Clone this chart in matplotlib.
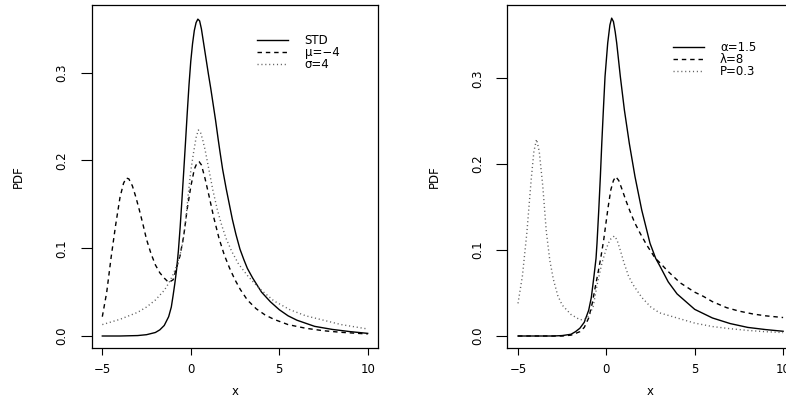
import matplotlib
matplotlib.use("Agg")
import matplotlib.pyplot as plt

plt.rcParams['font.family'] = ['DejaVu Sans']

# ---------------- left panel data ----------------
std_x = [-5, -4, -3, -2.5, -2, -1.75, -1.5, -1.25, -1.1, -1.0, -0.9, -0.8, -0.7, -0.6, -0.5,
         -0.4, -0.3, -0.2, -0.1, 0, 0.1, 0.2, 0.3, 0.4, 0.5, 0.6, 0.7, 0.8, 0.9, 1.0, 1.13,
         1.25, 1.4, 1.55, 1.65, 1.8, 2.0, 2.2, 2.35, 2.55, 2.78, 3.0, 3.2, 3.5, 4, 4.5, 5,
         5.5, 6, 7, 8, 9, 10]
std_y = [0, 0, 0.0005, 0.0015, 0.004, 0.007, 0.012, 0.022, 0.033, 0.046, 0.060, 0.076,
         0.097, 0.124, 0.155, 0.187, 0.220, 0.254, 0.286, 0.313, 0.333, 0.348, 0.357, 0.361,
         0.359, 0.350, 0.337, 0.324, 0.311, 0.298, 0.282, 0.266, 0.246, 0.224, 0.210, 0.190,
         0.168, 0.148, 0.133, 0.116, 0.099, 0.087, 0.077, 0.066, 0.050, 0.039, 0.030, 0.023,
         0.018, 0.011, 0.0075, 0.005, 0.003]

mu_x = [-5, -4.75, -4.5, -4.25, -4, -3.8, -3.65, -3.5, -3.3, -3.1, -2.9, -2.7, -2.5, -2.25,
        -2, -1.75, -1.5, -1.25, -1, -0.8, -0.6, -0.4, -0.2, 0, 0.2, 0.35, 0.47, 0.6, 0.8,
        1.05, 1.3, 1.6, 1.9, 2.2, 2.5, 2.8, 3.2, 3.7, 4.2, 4.7, 5.5, 6.5, 7.5, 8.5, 10]
mu_y = [0.022, 0.050, 0.090, 0.126, 0.158, 0.174, 0.180, 0.179, 0.171, 0.158, 0.143, 0.127,
        0.110, 0.094, 0.081, 0.072, 0.066, 0.061, 0.064, 0.078, 0.092, 0.114, 0.145, 0.170,
        0.190, 0.197, 0.1986, 0.195, 0.180, 0.158, 0.135, 0.111, 0.092, 0.077, 0.064, 0.053,
        0.041, 0.031, 0.024, 0.019, 0.013, 0.0088, 0.006, 0.0042, 0.0023]

sig_x = [-5, -4, -3, -2.5, -2, -1.5, -1.25, -1, -0.8, -0.6, -0.45, -0.3, -0.15, 0, 0.15,
         0.3, 0.43, 0.55, 0.68, 0.81, 1.05, 1.25, 1.5, 1.75, 2.0, 2.3, 2.7, 3.2, 3.6, 4,
         4.7, 5.6, 6.5, 7.5, 8.5, 10]
sig_y = [0.013, 0.019, 0.027, 0.033, 0.041, 0.052, 0.060, 0.070, 0.080, 0.093, 0.107, 0.128,
         0.160, 0.188, 0.208, 0.226, 0.2347, 0.232, 0.223, 0.212, 0.187, 0.166, 0.144,
         0.126, 0.111, 0.097, 0.082, 0.069, 0.060, 0.052, 0.040, 0.030, 0.023, 0.018,
         0.013, 0.008]

# ---------------- right panel data ----------------
alpha_x = [-5, -3, -2.5, -2, -1.75, -1.5, -1.25, -1.0, -0.85, -0.7, -0.585, -0.53, -0.43,
           -0.34, -0.26, -0.17, -0.076, 0.076, 0.2, 0.3, 0.4, 0.5, 0.585, 0.79, 1.02, 1.3,
           1.62, 2.0, 2.47, 2.79, 3.04, 3.5, 4, 5, 6, 7, 8, 9, 10]
alpha_y = [0, 0, 0.0005, 0.002, 0.005, 0.009, 0.016, 0.030, 0.045, 0.070, 0.0904, 0.1079,
           0.1467, 0.1855, 0.224, 0.263, 0.302, 0.341, 0.362, 0.370, 0.366, 0.354, 0.341,
           0.302, 0.263, 0.224, 0.1855, 0.1467, 0.1079, 0.0904, 0.081, 0.063, 0.049, 0.031,
           0.021, 0.0145, 0.010, 0.0075, 0.0055]

lam_x = [-5, -2.5, -2, -1.5, -1.25, -1, -0.8, -0.6, -0.45, -0.3, -0.15, 0, 0.1, 0.25, 0.4,
         0.53, 0.7, 0.9, 1.1, 1.34, 1.6, 1.9, 2.28, 2.75, 3.04, 3.5, 4.17, 5, 5.5, 6, 6.8,
         7.5, 8.3, 9, 10]
lam_y = [0, 0, 0.001, 0.005, 0.010, 0.021, 0.038, 0.060, 0.076, 0.093, 0.112, 0.135, 0.150,
         0.170, 0.181, 0.1855, 0.181, 0.170, 0.158, 0.145, 0.132, 0.120, 0.106, 0.091,
         0.085, 0.075, 0.062, 0.051, 0.046, 0.040, 0.033, 0.029, 0.0256, 0.0235, 0.0215]

p_x = [-5, -4.75, -4.5, -4.25, -4.1, -3.95, -3.8, -3.6, -3.4, -3.2, -3, -2.75, -2.5, -2,
       -1.5, -1.25, -1, -0.75, -0.5, -0.25, 0, 0.2, 0.45, 0.6, 0.8, 1.0, 1.25, 1.5, 2, 2.5,
       3, 4, 5, 6, 7, 8, 9, 10]
p_y = [0.038, 0.070, 0.120, 0.183, 0.215, 0.229, 0.215, 0.175, 0.122, 0.088, 0.066, 0.047,
       0.036, 0.025, 0.019, 0.019, 0.023, 0.034, 0.062, 0.085, 0.102, 0.112, 0.1164, 0.112,
       0.099, 0.085, 0.070, 0.060, 0.045, 0.034, 0.027, 0.021, 0.015, 0.011, 0.0085,
       0.0065, 0.005, 0.004]

left_labels = ["STD", "\u03bc=\u22124", "\u03c3=4"]
right_labels = ["\u03b1=1.5", "\u03bb=8", "P=0.3"]
x_ticks = [-5, 0, 5, 10]
y_ticks = [0.0, 0.1, 0.2, 0.3]
y_ticklabels = ["0.0", "0.1", "0.2", "0.3"]

W, H = 786, 399
fig = plt.figure(figsize=(W / 100, H / 100), dpi=100)

ax1 = fig.add_axes([91.7 / W, 1 - 348 / H, 286.6 / W, 343 / H])
ax2 = fig.add_axes([507.4 / W, 1 - 348 / H, 286.3 / W, 343 / H])

solid = dict(color='black', lw=1.0, linestyle='-')
dashed = dict(color='black', lw=1.0, linestyle=(0, (3.2, 2.8)))
dotted = dict(color='#606060', lw=1.0, linestyle=(0, (0.8, 2.0)))

ax1.plot(std_x, std_y, label=left_labels[0], **solid)
ax1.plot(mu_x, mu_y, label=left_labels[1], **dashed)
ax1.plot(sig_x, sig_y, label=left_labels[2], **dotted)

ax2.plot(alpha_x, alpha_y, label=right_labels[0], **solid)
ax2.plot(lam_x, lam_y, label=right_labels[1], **dashed)
ax2.plot(p_x, p_y, label=right_labels[2], **dotted)

ax1.set_ylim(-0.01367, 0.3771)
ax2.set_ylim(-0.01397, 0.3853)

fs = 8.5
for ax, legy in ((ax1, 0.915), (ax2, 0.895)):
    ax.set_xlim(-5.6, 10.6)
    ax.set_xticks(x_ticks)
    ax.set_yticks(y_ticks)
    ax.set_yticklabels(y_ticklabels, rotation=90, va='center')
    ax.tick_params(axis='x', length=5, width=0.8, pad=5.5, labelsize=fs, direction='out')
    ax.tick_params(axis='y', length=7.9, width=0.8, pad=9, labelsize=fs, direction='out')
    for sp in ax.spines.values():
        sp.set_linewidth(0.9)
    ax.set_xlabel("x", fontsize=fs)
    ax.set_ylabel("PDF", fontsize=fs)
    ax.xaxis.set_label_coords(0.5, -0.108)
    ax.yaxis.set_label_coords(-0.232, 0.5)
    ax.legend(loc='upper left', bbox_to_anchor=(0.578, legy), frameon=False,
              fontsize=fs, handlelength=2.6, handletextpad=1.4, labelspacing=-0.08,
              borderpad=0, borderaxespad=0)

fig.savefig("out.png", dpi=100)
